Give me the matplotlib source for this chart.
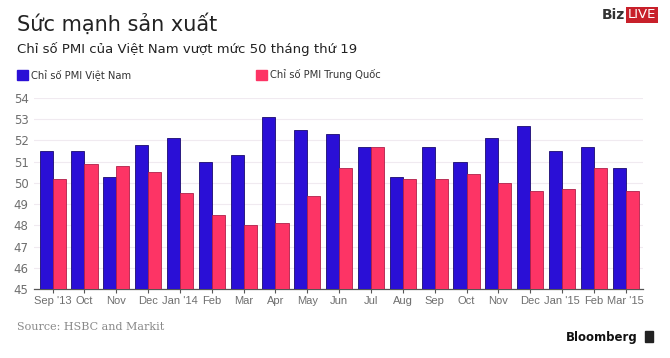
import numpy as np
import matplotlib
matplotlib.use("Agg")
from matplotlib import pyplot as plt
from matplotlib.patches import Rectangle

months = ["Sep '13", "Oct", "Nov", "Dec", "Jan '14", "Feb", "Mar", "Apr", "May",
          "Jun", "Jul", "Aug", "Sep", "Oct", "Nov", "Dec", "Jan '15", "Feb", "Mar '15"]
vietnam = [51.5, 51.5, 50.3, 51.8, 52.1, 51.0, 51.3, 53.1, 52.5,
           52.3, 51.7, 50.3, 51.7, 51.0, 52.1, 52.7, 51.5, 51.7, 50.7]
china = [50.2, 50.9, 50.8, 50.5, 49.5, 48.5, 48.0, 48.1, 49.4,
         50.7, 51.7, 50.2, 50.2, 50.4, 50.0, 49.6, 49.7, 50.7, 49.6]
yticks = [45, 46, 47, 48, 49, 50, 51, 52, 53, 54]

blue = "#2a0fd6"
pink = "#fd3465"
grey = "#6e6e6e"

plt.rcParams['font.family'] = ['DejaVu Sans']

fig = plt.figure(figsize=(6.7, 3.58), dpi=100)
ax = fig.add_axes([0.051, 0.193, 0.909, 0.533])

x = np.arange(len(months))
w = 0.41
ax.bar(x - w / 2, vietnam, w, color=blue, edgecolor="#1a0a70", linewidth=0.6, zorder=3)
ax.bar(x + w / 2, china, w, color=pink, edgecolor="#b0204a", linewidth=0.6, zorder=3)

ax.set_ylim(45, 54)
ax.set_xlim(-0.58, len(months) - 1 + 0.55)
ax.set_yticks(yticks)
ax.set_yticklabels([str(v) for v in yticks], color=grey, fontsize=8.5)
ax.set_xticks(x)
ax.set_xticklabels(months, color=grey, fontsize=8, family=["Liberation Sans", "DejaVu Sans"])
ax.tick_params(axis="y", length=0, pad=4)
ax.tick_params(axis="x", length=3, color="#555555", pad=2)
ax.grid(axis="y", color="#f0eaf0", linewidth=0.8, zorder=0)
for s in ["top", "right", "left"]:
    ax.spines[s].set_visible(False)
ax.spines["bottom"].set_color("#555555")
ax.spines["bottom"].set_linewidth(0.9)

# titles
fig.text(17 / 670, 1 - 24 / 358, "Sức mạnh sản xuất", fontsize=15, color="#222222", va="center")
fig.text(17 / 670, 1 - 49 / 358, "Chỉ số PMI của Việt Nam vượt mức 50 tháng thứ 19",
         fontsize=9.5, color="#222222", va="center")

# legend
fig.patches.append(Rectangle((17 / 670, 1 - 80 / 358), 11 / 670, 10 / 358,
                             transform=fig.transFigure, color=blue))
fig.text(31 / 670, 1 - 75 / 358, "Chỉ số PMI Việt Nam", fontsize=7.2, color="#333333", va="center")
fig.patches.append(Rectangle((256 / 670, 1 - 80 / 358), 11 / 670, 10 / 358,
                             transform=fig.transFigure, color=pink))
fig.text(270 / 670, 1 - 75 / 358, "Chỉ số PMI Trung Quốc", fontsize=7.2, color="#333333", va="center")

# logo
fig.text(625 / 670, 1 - 15 / 358, "Biz", fontsize=10, fontweight="bold", color="#333333",
         va="center", ha="right")
fig.text(628 / 670, 1 - 15 / 358, "LIVE", fontsize=9.5, color="white", va="center",
         bbox=dict(boxstyle="square,pad=0.12", facecolor="#c8202a", edgecolor="none"))

# footer
fig.text(17 / 670, 1 - 327 / 358, "Source: HSBC and Markit", fontsize=8, color="#888888",
         family=["DejaVu Serif"], va="center")
fig.text(638 / 670, 1 - 337 / 358, "Bloomberg", fontsize=8.5, fontweight="bold", color="#111111",
         va="center", ha="right")
fig.patches.append(Rectangle((645 / 670, 1 - 342 / 358), 8 / 670, 11 / 358,
                             transform=fig.transFigure, color="#222222"))

fig.savefig("out.png", dpi=100, facecolor="white")
